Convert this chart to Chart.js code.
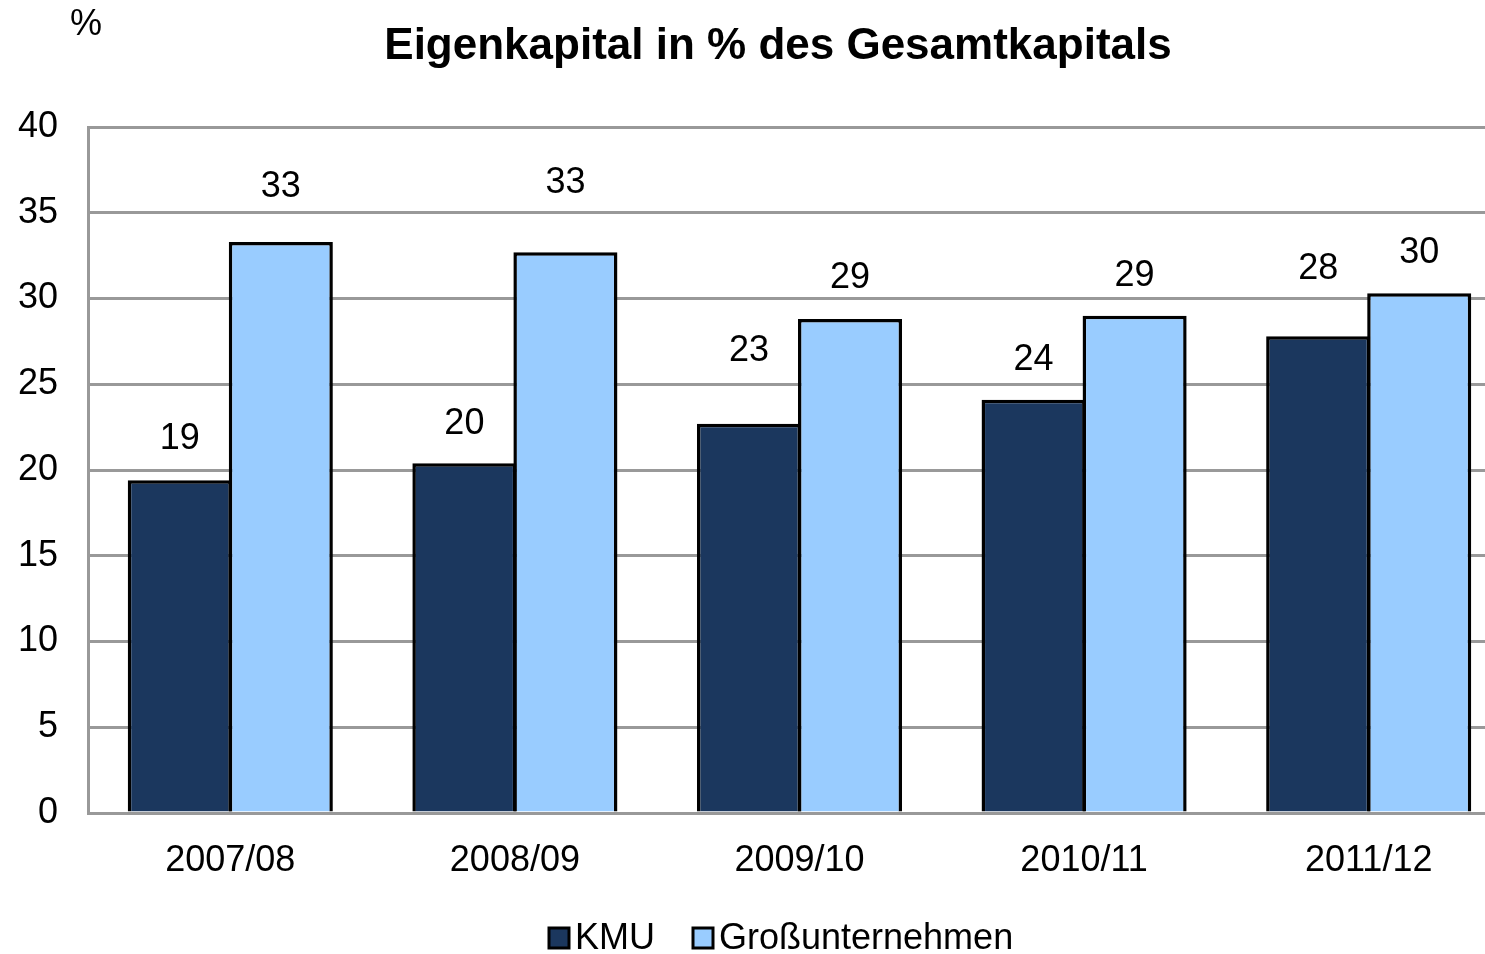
<!DOCTYPE html>
<html>
<head>
<meta charset="utf-8">
<script src="https://cdn.jsdelivr.net/npm/chart.js@4.4.0/dist/chart.umd.min.js"></script>
<style>
  html, body { margin: 0; padding: 0; background: #fff; overflow: hidden; }
  /* plot runs slightly past the right edge, as in the original crop */
  #wrap { width: 1511px; height: 954px; }
</style>
</head>
<body>
<div id="wrap"><canvas id="eigenChart"></canvas></div>
<script>
// ===== Data =====
const years = ['2007/08', '2008/09', '2009/10', '2010/11', '2011/12'];
const kmu = [19.4, 20.4, 22.7, 24.1, 27.8];
const gross = [33.3, 32.7, 28.8, 29.0, 30.3];
const yTicks = [0, 5, 10, 15, 20, 25, 30, 35, 40];

// label nudges above bar tops (px), as placed in the original
const liftKmu = [41, 39, 73, 40, 67];
const liftGross = [55, 69, 41, 40, 40];

const FONT = "'Liberation Sans', Arial, sans-serif";
const NAVY = '#1b375e';
const LIGHT = '#99ccff';

// ===== Title, "%" label, value labels, legend =====
const extrasPlugin = {
  id: 'extras',
  afterDatasetsDraw(chart) {
    const ctx = chart.ctx;
    ctx.save();
    ctx.fillStyle = '#000';
    ctx.textAlign = 'center';
    ctx.textBaseline = 'middle';

    ctx.font = 'bold 44px ' + FONT;
    ctx.fillText('Eigenkapital in % des Gesamtkapitals', 778, 47);

    ctx.font = '36px ' + FONT;
    ctx.fillText('%', 86, 25);

    // value labels
    const lifts = [liftKmu, liftGross];
    chart.data.datasets.forEach((ds, i) => {
      chart.getDatasetMeta(i).data.forEach((bar, j) => {
        ctx.fillText(Math.round(ds.data[j]), bar.x, bar.y - lifts[i][j]);
      });
    });

    // legend
    ctx.textAlign = 'left';
    const items = [
      { text: 'KMU', color: NAVY, x: 549 },
      { text: 'Großunternehmen', color: LIGHT, x: 693 }
    ];
    items.forEach(it => {
      ctx.fillStyle = it.color;
      ctx.fillRect(it.x, 928, 20, 20);
      ctx.strokeStyle = '#000';
      ctx.lineWidth = 3;
      ctx.strokeRect(it.x, 928, 20, 20);
      ctx.fillStyle = '#000';
      ctx.fillText(it.text, it.x + 26, 939);
    });
    ctx.restore();
  }
};

const ctx = document.getElementById('eigenChart').getContext('2d');
new Chart(ctx, {
  type: 'bar',
  data: {
    labels: years,
    datasets: [
      {
        label: 'KMU',
        data: kmu,
        backgroundColor: NAVY,
        borderColor: '#000',
        borderWidth: 3.5,
        borderSkipped: 'bottom'
      },
      {
        label: 'Großunternehmen',
        data: gross,
        backgroundColor: LIGHT,
        borderColor: '#000',
        borderWidth: 3.5,
        borderSkipped: 'bottom'
      }
    ]
  },
  options: {
    responsive: true,
    maintainAspectRatio: false,
    animation: false,
    categoryPercentage: 0.71,
    barPercentage: 1.03,
    layout: { padding: { top: 127, right: 0, left: 0, bottom: 71 } },
    plugins: {
      title: { display: false },
      tooltip: { enabled: false },
      legend: { display: false }
    },
    scales: {
      x: {
        grid: { display: false, drawTicks: false },
        border: { color: '#999', width: 3 },
        ticks: { font: { family: FONT, size: 36 }, color: '#000', padding: 26 },
        afterFit(scale) { scale.height = 70; }
      },
      y: {
        min: 0,
        max: 40,
        afterBuildTicks(scale) { scale.ticks = yTicks.map(v => ({ value: v })); },
        grid: { color: '#999', lineWidth: 3, drawTicks: false },
        border: { color: '#999', width: 3 },
        ticks: { font: { family: FONT, size: 36 }, color: '#000', padding: 30 },
        afterFit(scale) { scale.width = 88; }
      }
    }
  },
  plugins: [extrasPlugin]
});
</script>
</body>
</html>
